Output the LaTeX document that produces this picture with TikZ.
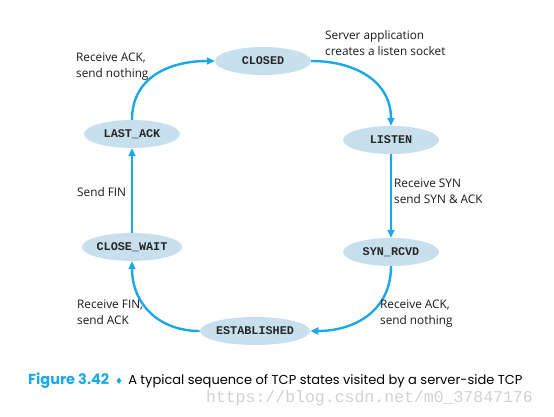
\documentclass[tikz,border=0pt]{standalone}
\usepackage{fontspec}
\setmainfont{Open Sans}
\newfontfamily\statefont[BoldFont={Liberation Mono Bold}]{Liberation Mono}
\newfontfamily\capfont{Poppins}
\newfontfamily\symfont{DejaVu Sans}
\newfontfamily\wmfont{Liberation Mono}
\usetikzlibrary{arrows.meta,shapes.geometric}
\definecolor{arrowblue}{HTML}{1BA8E8}
\definecolor{statefill}{HTML}{C8E0EE}
\definecolor{captionblue}{HTML}{1BA8E8}
\tikzset{
  state/.style={ellipse, fill=statefill, minimum width=96pt, minimum height=28pt, inner sep=0pt,
    font=\statefont\bfseries\fontsize{11.8}{12}\selectfont, text=black!85},
  trans/.style={draw=arrowblue, line width=2.4pt, -{Triangle[length=8pt,width=7pt]}},
  lbl/.style={anchor=north west, inner sep=0pt, align=left, font=\fontsize{11.8}{16}\selectfont, text=black!90}
}
\begin{document}
\begin{tikzpicture}[x=1pt,y=-1pt]
\useasboundingbox (0,0) rectangle (554,417);
\node[state] (closed) at (263,61) {CLOSED};
\node[state] (listen) at (391,140) {LISTEN};
\node[state] (synrcvd) at (391,252) {SYN\_RCVD};
\node[state] (est) at (255,331) {ESTABLISHED};
\node[state] (closewait) at (132,247) {CLOSE\_WAIT};
\node[state] (lastack) at (132,134) {LAST\_ACK};

\draw[trans] (closed.east) to[out=0,in=90,looseness=1.1] (listen.north);
\draw[trans] (listen.south) -- (synrcvd.north);
\draw[trans] (synrcvd.south) to[out=-90,in=0,looseness=1.1] (est.east);
\draw[trans] (est.west) to[out=180,in=-90,looseness=1.1] (closewait.south);
\draw[trans] (closewait.north) -- (lastack.south);
\draw[trans] (lastack.north) to[out=90,in=180,looseness=1.1] (closed.west);

\node[lbl] (l1) at (76,53) {Receive ACK,\\send nothing};
\node[lbl] (l2) at (325,30) {Server application\\creates a listen socket};
\node[lbl] (l3) at (394,179) {Receive SYN\\send SYN \& ACK};
\node[lbl] (l4) at (77,187) {Send FIN};
\node[lbl] (l5) at (77,300) {Receive FIN,\\send ACK};
\node[lbl] (l6) at (380,300) {Receive ACK,\\send nothing};

\node[anchor=west, inner sep=0pt] (cap) at (28,381) {{\capfont\bfseries\fontsize{14.5}{16}\selectfont\textcolor{captionblue}{Figure 3.42}}\hspace{6pt}{\symfont\fontsize{9}{10}\selectfont\textcolor{captionblue}{♦}}\hspace{5pt}{\capfont\fontsize{13}{15}\selectfont A typical sequence of TCP states visited by a server-side TCP}};
\node[anchor=east, inner sep=0pt, text=black!18] (wm) at (533,398) {\wmfont\fontsize{16.5}{18}\selectfont https://blog.csdn.net/m0\_37847176};
\end{tikzpicture}
\end{document}
